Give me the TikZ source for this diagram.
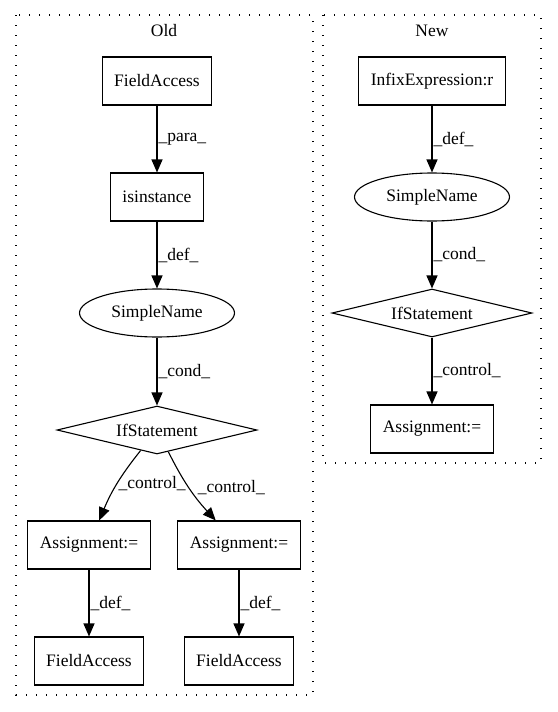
\documentclass[tikz,border=0pt]{standalone}
\usepackage{fontspec}
\setmainfont{Liberation Serif}
\usetikzlibrary{shapes.geometric,arrows.meta}
\begin{document}
\begin{tikzpicture}[
  x=1pt, y=-1pt,
  every node/.style={font=\fontsize{17.5}{20}\selectfont},
  box/.style={draw, line width=1.1pt, minimum height=48pt, inner xsep=12pt},
  oval/.style={draw, ellipse, line width=1.1pt, minimum width=155pt, minimum height=48pt, inner sep=0pt},
  cond/.style={draw, diamond, aspect=4.2, line width=1.1pt, minimum width=200pt, minimum height=48pt, inner sep=0pt},
  cluster/.style={dash pattern=on 1.4pt off 8.6pt, line width=1.4pt},
  edge/.style={-{Triangle[length=13pt,width=11pt]}, line width=1.1pt},
  lbl/.style={right, inner sep=1pt}
]
  \useasboundingbox (0,0) rectangle (557,712);
  % clusters
  \draw[cluster] (16,15) rectangle (313,695);
  \draw[cluster] (323,15) rectangle (541,463);
  \node (oldlbl) at (164,31) {Old};
  \node (newlbl) at (432,31) {New};

  % old
  \node[box] (fa0) at (157,81) {FieldAccess};
  \node[box] (isinst) at (157,197) {isinstance};
  \node[oval] (sn0) at (157,313) {SimpleName};
  \node[cond] (if0) at (157,430) {IfStatement};
  \node[box] (asgL) at (89,545) {Assignment:=};
  \node[box] (asgR) at (239,545) {Assignment:=};
  \node[box] (faL) at (89,661) {FieldAccess};
  \node[box] (faR) at (239,661) {FieldAccess};

  \draw[edge] (fa0) -- node[lbl] {\_para\_} (isinst);
  \draw[edge] (isinst) -- node[lbl] {\_def\_} (sn0);
  \draw[edge] (sn0) -- node[lbl] {\_cond\_} (if0);
  \draw[edge] (if0) to[bend right=8] node[lbl] {\_control\_} (asgL);
  \draw[edge] (if0) to[bend right=8] node[lbl, xshift=7pt] {\_control\_} (asgR);
  \draw[edge] (asgL) -- node[lbl] {\_def\_} (faL);
  \draw[edge] (asgR) -- node[lbl] {\_def\_} (faR);

  % new
  \node[box] (infix) at (432,81) {InfixExpression:r};
  \node[oval] (sn1) at (432,197) {SimpleName};
  \node[cond] (if1) at (432,313) {IfStatement};
  \node[box] (asg1) at (432,429) {Assignment:=};

  \draw[edge] (infix) -- node[lbl] {\_def\_} (sn1);
  \draw[edge] (sn1) -- node[lbl] {\_cond\_} (if1);
  \draw[edge] (if1) -- node[lbl] {\_control\_} (asg1);
\end{tikzpicture}
\end{document}
